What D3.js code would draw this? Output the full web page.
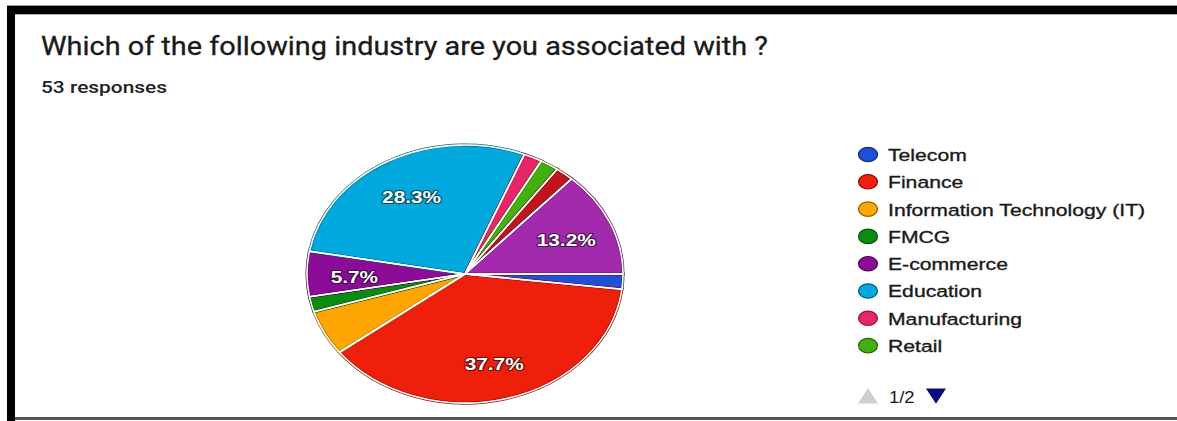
<!DOCTYPE html>
<html>
<head>
<meta charset="utf-8">
<script src="https://cdn.jsdelivr.net/npm/d3@7"></script>
<style>
  html, body { margin: 0; padding: 0; background: #fff; }
  svg { display: block; }
</style>
</head>
<body>
<svg id="chart" width="1177" height="421"></svg>
<script>
// Survey question and response counts per industry
const questionTitle = "Which of the following industry are you associated with ?";
const responseNote = "53 responses";
const categories = [
  "Telecom", "Finance", "Information Technology (IT)", "FMCG", "E-commerce",
  "Education", "Manufacturing", "Retail", "Category 9", "Category 10"
];
const responses = [1, 20, 3, 1, 3, 15, 1, 1, 1, 7];
const sliceColors = [
  "#1d4fd8", "#ee1f0b", "#ffa500", "#0b8b0f", "#8b0c97",
  "#00a8de", "#e8246a", "#43b010", "#bf151b", "#a32aad"
];
const legendPageSize = 8;
const pagerText = "1/2";

const svg = d3.select("#chart");
const W = 1177, H = 421;

// Card frame: heavy top and left edges, thin bottom line
svg.append("rect").attr("x", 7).attr("y", 5).attr("width", W - 7).attr("height", 1).attr("fill", "#999");
svg.append("rect").attr("x", 7).attr("y", 6).attr("width", W - 7).attr("height", 8).attr("fill", "#000");
svg.append("rect").attr("x", 15).attr("y", 14).attr("width", W - 15).attr("height", 1).attr("fill", "#aaa");
svg.append("rect").attr("x", 7).attr("y", 6).attr("width", 8).attr("height", H - 6).attr("fill", "#000");
svg.append("rect").attr("x", 15).attr("y", 417).attr("width", W - 15).attr("height", 3).attr("fill", "#555");

// Title and response count
svg.append("text")
  .attr("x", 41).attr("y", 55)
  .attr("font-family", "Roboto, 'Open Sans', sans-serif")
  .attr("font-size", 25)
  .attr("fill", "#1a1a1a")
  .attr("stroke", "#1a1a1a")
  .attr("stroke-width", 0.3)
  .attr("textLength", 727)
  .attr("lengthAdjust", "spacingAndGlyphs")
  .text(questionTitle);

svg.append("text")
  .attr("x", 41).attr("y", 93)
  .attr("font-family", "Roboto, 'Open Sans', sans-serif")
  .attr("font-size", 17)
  .attr("font-weight", 500)
  .attr("fill", "#202124")
  .attr("textLength", 126)
  .attr("lengthAdjust", "spacingAndGlyphs")
  .text(responseNote);

// Pie: drawn as a circle of radius R, stretched horizontally into an ellipse
const cx = 465, cy = 274, R = 129, rx = 158;
const stretch = rx / R;
const total = d3.sum(responses);
const data = categories.map((c, i) => ({ name: c, value: responses[i], color: sliceColors[i] }));

const pie = d3.pie()
  .value(d => d.value)
  .sort(null)
  .startAngle(Math.PI / 2)
  .endAngle(Math.PI / 2 + 2 * Math.PI);
const arcs = pie(data);
const arc = d3.arc().innerRadius(0).outerRadius(R);

const pieG = svg.append("g").attr("transform", `translate(${cx},${cy}) scale(${stretch},1)`);

pieG.selectAll("path.slice")
  .data(arcs)
  .join("path")
  .attr("class", "slice")
  .attr("d", arc)
  .attr("fill", d => d.data.color)
  .attr("stroke", d => d3.color(d.data.color).darker(1.2))
  .attr("stroke-width", 3)
  .attr("vector-effect", "non-scaling-stroke");

pieG.selectAll("path.sep")
  .data(arcs)
  .join("path")
  .attr("class", "sep")
  .attr("d", arc)
  .attr("fill", "none")
  .attr("stroke", "#fff")
  .attr("stroke-width", 1.6)
  .attr("stroke-linejoin", "round")
  .attr("vector-effect", "non-scaling-stroke");

// Percentage labels, kept only where the label box fits inside its slice
const pct = d3.format(".1%");
const labelFont = 17;
const labelR = 0.7 * R;
const TAU = 2 * Math.PI;

function insideSlice(x, y, d) {
  const r = Math.hypot(x, y);
  if (r > R - 2) return false;
  const a = Math.atan2(x, -y);
  const rel = (((a - d.startAngle) % TAU) + TAU) % TAU;
  return rel <= d.endAngle - d.startAngle;
}

const labels = pieG.selectAll("text.pct")
  .data(arcs)
  .join("text")
  .attr("class", "pct")
  .attr("font-family", "Arial, 'Liberation Sans', sans-serif")
  .attr("font-size", labelFont)
  .attr("font-weight", "bold")
  .attr("fill", "#fff")
  .attr("stroke", d => d3.color(d.data.color).darker(2.2))
  .attr("stroke-width", 2.2)
  .attr("stroke-linejoin", "round")
  .attr("paint-order", "stroke")
  .attr("text-anchor", "middle")
  .attr("dy", "0.5em")
  .each(function (d) {
    const a = (d.startAngle + d.endAngle) / 2;
    d.lx = labelR * Math.sin(a);
    d.ly = -labelR * Math.cos(a);
  })
  .attr("x", d => d.lx)
  .attr("y", d => d.ly)
  .text(d => pct(d.value / total));

labels.each(function (d) {
  const hw = this.getComputedTextLength() / 2;
  const hh = labelFont * 0.36;
  const corners = [[-hw, -hh], [hw, -hh], [-hw, hh], [hw, hh]];
  const fits = corners.every(([ox, oy]) => insideSlice(d.lx + ox, d.ly + oy, d));
  if (!fits) d3.select(this).remove();
});

// Legend (first page) with pager
const legendX = 868, legendY0 = 154.5, legendStep = 27.3;
const legendItems = data.slice(0, legendPageSize);
const legendG = svg.append("g");
const rows = legendG.selectAll("g.row")
  .data(legendItems)
  .join("g")
  .attr("class", "row")
  .attr("transform", (d, i) => `translate(${legendX},${legendY0 + i * legendStep})`);

rows.append("ellipse")
  .attr("rx", 9.5).attr("ry", 7.2)
  .attr("fill", d => d.color)
  .attr("stroke", d => d3.color(d.color).darker(1.5))
  .attr("stroke-width", 1.2);

rows.append("text")
  .attr("transform", `translate(20,6.4) scale(1.245,1)`)
  .attr("font-family", "Arial, 'Liberation Sans', sans-serif")
  .attr("font-size", 17)
  .attr("fill", "#1a1a1a")
  .attr("stroke", "#1a1a1a")
  .attr("stroke-width", 0.35)
  .text(d => d.name);

const pagerY = 395.5;
const tri = d3.symbol().type(d3.symbolTriangle).size(150);
legendG.append("path")
  .attr("d", tri())
  .attr("transform", `translate(${legendX},${pagerY + 3}) scale(1.08,0.95)`)
  .attr("fill", "#cfcfcf");
legendG.append("text")
  .attr("transform", `translate(889,${pagerY + 7}) scale(1.15,1)`)
  .attr("font-family", "Arial, 'Liberation Sans', sans-serif")
  .attr("font-size", 16)
  .attr("fill", "#1a1a1a")
  .text(pagerText);
legendG.append("path")
  .attr("d", tri())
  .attr("transform", `translate(936,${pagerY - 2}) rotate(180) scale(1.08,0.95)`)
  .attr("fill", "#0b0b7a");
</script>
</body>
</html>
